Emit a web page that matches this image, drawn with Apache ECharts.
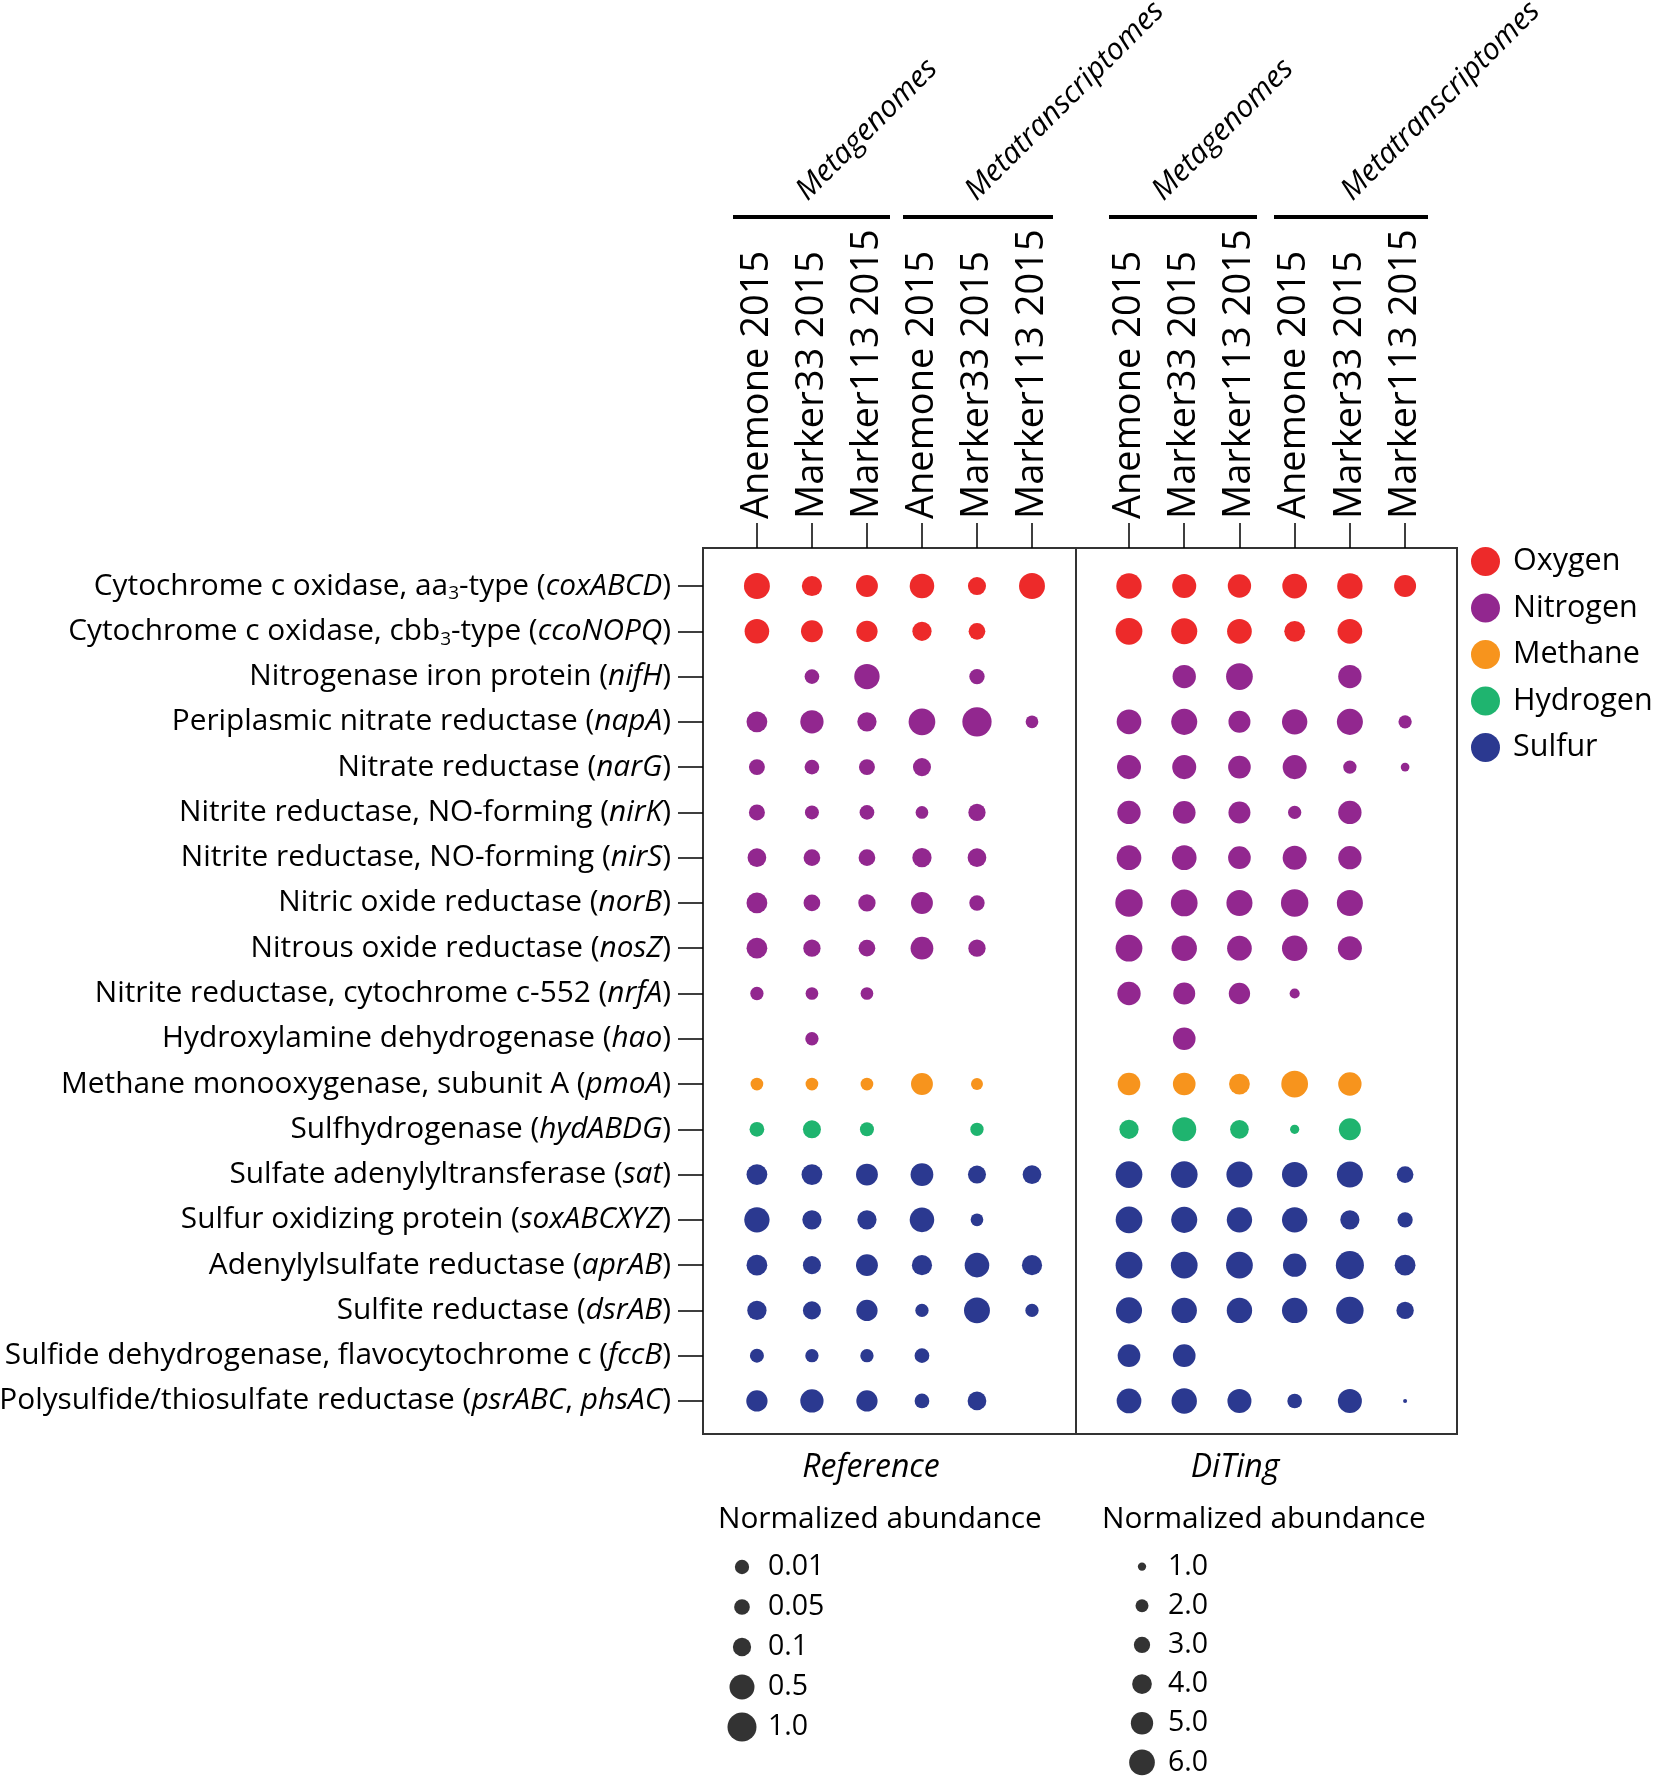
<!DOCTYPE html>
<html>
<head>
<meta charset="utf-8">
<title>Marker genes - Reference vs DiTing</title>
<script src="https://cdn.jsdelivr.net/npm/echarts@6.0.0/dist/echarts.min.js"></script>
<style>
  html, body { margin: 0; padding: 0; background: #fff; }
  #chart { width: 1655px; height: 1783px; }
</style>
</head>
<body>
<div id="chart"></div>
<script>
// ---- data ----
const samples = ['Anemone 2015', 'Marker33 2015', 'Marker113 2015', 'Anemone 2015', 'Marker33 2015', 'Marker113 2015'];
const sampleGroups = ['Metagenomes', 'Metatranscriptomes'];
const panels = ['Reference', 'DiTing'];
const categories = ['Oxygen', 'Nitrogen', 'Methane', 'Hydrogen', 'Sulfur'];

const geneNames = [
  'Cytochrome c oxidase, aa3-type',
  'Cytochrome c oxidase, cbb3-type',
  'Nitrogenase iron protein',
  'Periplasmic nitrate reductase',
  'Nitrate reductase',
  'Nitrite reductase, NO-forming',
  'Nitrite reductase, NO-forming',
  'Nitric oxide reductase',
  'Nitrous oxide reductase',
  'Nitrite reductase, cytochrome c-552',
  'Hydroxylamine dehydrogenase',
  'Methane monooxygenase, subunit A',
  'Sulfhydrogenase',
  'Sulfate adenylyltransferase',
  'Sulfur oxidizing protein',
  'Adenylylsulfate reductase',
  'Sulfite reductase',
  'Sulfide dehydrogenase, flavocytochrome c',
  'Polysulfide/thiosulfate reductase'
];
const geneSymbols = ['coxABCD', 'ccoNOPQ', 'nifH', 'napA', 'narG', 'nirK', 'nirS', 'norB', 'nosZ',
  'nrfA', 'hao', 'pmoA', 'hydABDG', 'sat', 'soxABCXYZ', 'aprAB', 'dsrAB', 'fccB', 'psrABC, phsAC'];
const rowCategory = ['Oxygen', 'Oxygen',
  'Nitrogen', 'Nitrogen', 'Nitrogen', 'Nitrogen', 'Nitrogen', 'Nitrogen', 'Nitrogen', 'Nitrogen', 'Nitrogen',
  'Methane', 'Hydrogen',
  'Sulfur', 'Sulfur', 'Sulfur', 'Sulfur', 'Sulfur', 'Sulfur'];

// normalized abundance, rows = genes, columns = samples (null = not found)
const referenceValues = [
  [0.7, 0.2, 0.3, 0.55, 0.12, 0.7],
  [0.55, 0.3, 0.26, 0.16, 0.085, null],
  [null, 0.05, 0.63, null, 0.06, null],
  [0.23, 0.42, 0.16, 0.8, 1.25, 0.005],
  [0.07, 0.05, 0.07, 0.12, null, null],
  [0.07, 0.022, 0.05, 0.005, 0.1, null],
  [0.14, 0.085, 0.085, 0.16, 0.14, null],
  [0.23, 0.085, 0.1, 0.3, 0.06, null],
  [0.23, 0.1, 0.085, 0.37, 0.1, null],
  [0.01, 0.005, 0.005, null, null, null],
  [null, 0.01, null, null, null, null],
  [0.005, 0.005, 0.005, 0.3, 0.002, null],
  [0.05, 0.12, 0.022, null, 0.01, null],
  [0.23, 0.23, 0.3, 0.37, 0.12, 0.14],
  [0.63, 0.16, 0.16, 0.55, 0.005, null],
  [0.23, 0.12, 0.3, 0.2, 0.55, 0.2],
  [0.16, 0.12, 0.26, 0.01, 0.7, 0.01],
  [0.022, 0.01, 0.01, 0.05, null, null],
  [0.26, 0.42, 0.26, 0.05, 0.14, null]
];
const ditingValues = [
  [6.2, 5.8, 5.6, 6.0, 6.2, 5.2],
  [6.6, 6.4, 6.0, 4.8, 6.0, null],
  [null, 5.6, 6.6, null, 5.6, null],
  [6.0, 6.4, 5.2, 6.2, 6.4, 2.4],
  [5.8, 5.8, 5.4, 5.8, 2.4, 1.3],
  [5.6, 5.4, 5.2, 2.4, 5.6, null],
  [6.0, 6.0, 5.4, 5.8, 5.6, null],
  [6.8, 6.6, 6.4, 6.8, 6.4, null],
  [6.6, 6.2, 6.0, 6.2, 5.8, null],
  [5.6, 5.2, 5.0, 1.6, null, null],
  [null, 5.4, null, null, null, null],
  [5.4, 5.4, 4.8, 6.6, 5.6, null],
  [4.2, 5.8, 4.0, 1.4, 5.2, null],
  [6.6, 6.6, 6.4, 6.2, 6.4, 3.4],
  [6.6, 6.4, 6.2, 6.2, 4.2, 3.0],
  [6.6, 6.6, 6.6, 5.6, 7.0, 4.8],
  [6.4, 6.2, 6.2, 6.2, 6.8, 3.6],
  [5.4, 5.4, null, null, null, null],
  [6.0, 6.2, 5.8, 2.8, 5.8, 0.3]
];

const referenceLegendValues = [0.01, 0.05, 0.1, 0.5, 1.0];
const referenceLegendLabels = ['0.01', '0.05', '0.1', '0.5', '1.0'];
const ditingLegendValues = [1, 2, 3, 4, 5, 6];
const ditingLegendLabels = ['1.0', '2.0', '3.0', '4.0', '5.0', '6.0'];

// ---- style ----
const FONT = '"Open Sans", "Noto Sans", sans-serif';
const colors = { Oxygen: '#ED2A2A', Nitrogen: '#92278F', Methane: '#F7941D', Hydrogen: '#1FB46F', Sulfur: '#2B3990' };
// dot diameter (px) at each size-legend step
const refDiam = [13.3, 14.7, 17.3, 24, 28];
const ditingDiam = [7.3, 12, 15.3, 18.7, 21.3, 24.7];

// piecewise linear, extended past both ends
function interp(x, xs, ys) {
  let i = 0;
  if (x >= xs[xs.length - 1]) i = xs.length - 2;
  else if (x > xs[0]) while (x > xs[i + 1]) i++;
  const t = (x - xs[i]) / (xs[i + 1] - xs[i]);
  return ys[i] + t * (ys[i + 1] - ys[i]);
}
const refLogSteps = referenceLegendValues.map(Math.log10);
const sizeRef = v => interp(Math.log10(v), refLogSteps, refDiam);
const sizeDiting = v => interp(v, ditingLegendValues, ditingDiam);

const idx = n => Array.from({ length: n }, (_, i) => i);

function panelSeries(values, p, sizeFn) {
  return categories.map(cat => ({
    name: cat,
    type: 'scatter',
    xAxisIndex: p,
    yAxisIndex: p,
    data: values.flatMap((row, r) => rowCategory[r] !== cat ? [] :
      row.map((v, c) => v == null ? null : [c, r, v]).filter(Boolean)),
    symbolSize: d => sizeFn(d[2]),
    itemStyle: { color: colors[cat], opacity: 1 },
    emphasis: { disabled: true },
    silent: true
  }));
}

function geneLabel(v) {
  const name = geneNames[v].replace(/(aa|cbb)3/, '$1{sub|3}');
  const sym = geneSymbols[v].split(', ').map(s => '{i|' + s + '}').join(', ');
  return name + ' (' + sym + ')';
}

const tickLine = { lineStyle: { color: '#000', width: 1.5 } };
// outerBoundsMode none: keep the grid where it is even if labels run to the page edge
const frame = { show: true, borderColor: '#333', borderWidth: 2, backgroundColor: 'transparent', outerBoundsMode: 'none' };

function sampleAxis(grid, min, max) {
  return {
    gridIndex: grid, type: 'value', position: 'top', min: min, max: max,
    splitLine: { show: false },
    axisLine: { show: true, onZero: false, lineStyle: { color: '#333', width: 2 } },
    axisTick: { show: true, length: 25, customValues: idx(6), ...tickLine },
    axisLabel: {
      customValues: idx(6), rotate: -90, margin: 29,
      fontSize: 38, fontFamily: FONT, color: '#000',
      formatter: v => samples[v]
    }
  };
}

function geneAxis(grid, show) {
  return {
    gridIndex: grid, type: 'value', inverse: true, min: -0.84, max: 18.73,
    show: show,
    splitLine: { show: false },
    axisLine: { show: true, onZero: false, lineStyle: { color: '#333', width: 2 } },
    axisTick: { show: true, length: 25, customValues: idx(19), ...tickLine },
    axisLabel: {
      customValues: idx(19), margin: 32,
      fontSize: 29.8, fontFamily: FONT, color: '#000',
      formatter: geneLabel,
      rich: {
        sub: { fontSize: 19, fontFamily: FONT, color: '#000', padding: [16, 0, 0, 0] },
        i: { fontSize: 29.8, fontFamily: FONT, color: '#000', fontStyle: 'italic' }
      }
    }
  };
}

function sizeLegendAxes(grid, labels) {
  return [{
    gridIndex: grid, type: 'value', min: -1, max: 1, show: false
  }, {
    gridIndex: grid, type: 'category', data: labels, inverse: true, position: 'right',
    axisLine: { show: false }, axisTick: { show: false },
    axisLabel: { margin: 6, fontSize: 28.5, fontFamily: FONT, color: '#000' }
  }];
}

function sizeLegendSeries(grid, values, sizeFn) {
  return {
    type: 'scatter', xAxisIndex: grid, yAxisIndex: grid,
    data: values.map((v, i) => [0, i, v]),
    symbolSize: d => sizeFn(d[2]) + 1,
    itemStyle: { color: '#000' },
    silent: true
  };
}

const refLegendAxes = sizeLegendAxes(2, referenceLegendLabels);
const ditLegendAxes = sizeLegendAxes(3, ditingLegendLabels);

// group bars over the sample columns
const bars = [[733, 890], [903, 1053], [1109, 1257], [1274, 1428]];
const groupLabelStart = [[812, 206], [981, 206], [1168, 206], [1357, 206]];

const graphics = [];
bars.forEach((b, k) => {
  graphics.push({
    type: 'line', silent: true,
    shape: { x1: b[0], y1: 217, x2: b[1], y2: 217 },
    style: { stroke: '#000', lineWidth: 4 }
  });
  graphics.push({
    type: 'text', silent: true,
    x: groupLabelStart[k][0], y: groupLabelStart[k][1], rotation: Math.PI / 4,
    style: {
      text: sampleGroups[k % 2], font: 'italic 30px ' + FONT, fill: '#000',
      align: 'left', verticalAlign: 'bottom'
    }
  });
});
[[871, panels[0]], [1235, panels[1]]].forEach(([x, t]) => {
  graphics.push({
    type: 'text', silent: true, x: x, y: 1468,
    style: { text: t, font: 'italic 32px ' + FONT, fill: '#000', align: 'center', verticalAlign: 'middle' }
  });
});
[718, 1102].forEach(x => {
  graphics.push({
    type: 'text', silent: true, x: x, y: 1520,
    style: { text: 'Normalized abundance', font: '29.8px ' + FONT, fill: '#000', align: 'left', verticalAlign: 'middle' }
  });
});

const chart = echarts.init(document.getElementById('chart'), null, { renderer: 'canvas' });
chart.setOption({
  animation: false,
  backgroundColor: '#fff',
  grid: [
    { left: 703, top: 548, width: 373, height: 886, ...frame },
    { left: 1076, top: 548, width: 381, height: 886, ...frame },
    { left: 722, top: 1547, width: 40, height: 200, outerBoundsMode: 'none' },
    { left: 1122, top: 1547, width: 40, height: 235, outerBoundsMode: 'none' }
  ],
  xAxis: [sampleAxis(0, -0.98, 5.8), sampleAxis(1, -0.96, 5.94), refLegendAxes[0], ditLegendAxes[0]],
  yAxis: [geneAxis(0, true), geneAxis(1, false), refLegendAxes[1], ditLegendAxes[1]],
  legend: {
    data: categories.map(n => ({ name: n, icon: 'circle' })),
    orient: 'vertical', left: 1471, top: 546, padding: 0,
    itemWidth: 29, itemHeight: 29, itemGap: 15.5, selectedMode: false,
    textStyle: { fontSize: 30.5, fontFamily: FONT, color: '#000', padding: [0, 0, 0, 8] }
  },
  graphic: graphics,
  series: [
    ...panelSeries(referenceValues, 0, sizeRef),
    ...panelSeries(ditingValues, 1, sizeDiting),
    sizeLegendSeries(2, referenceLegendValues, sizeRef),
    sizeLegendSeries(3, ditingLegendValues, sizeDiting)
  ]
});
</script>
</body>
</html>
